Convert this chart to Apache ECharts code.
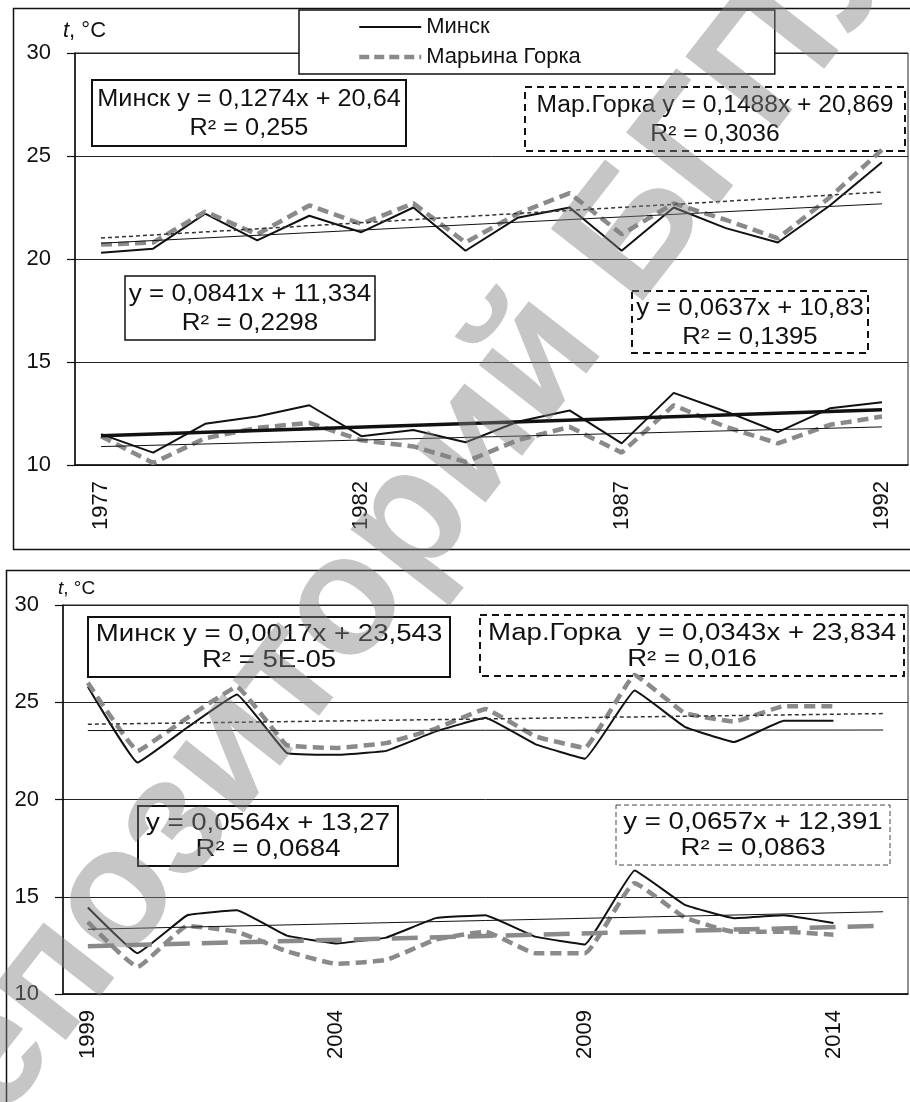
<!DOCTYPE html>
<html>
<head>
<meta charset="utf-8">
<script src="https://cdn.jsdelivr.net/npm/echarts@6/dist/echarts.min.js"></script>
<style>
  html, body { margin: 0; padding: 0; background: #fff; }
  #chart { width: 910px; height: 1102px; }
</style>
</head>
<body>
<div id="chart"></div>
<script>
// ---- Period 1: 1977–1992 ----
const years1 = ['1977','1978','1979','1980','1981','1982','1983','1984','1985','1986','1987','1988','1989','1990','1991','1992'];
const minskUpper1  = [20.3, 20.5, 22.2, 20.9, 22.1, 21.3, 22.5, 20.4, 22.0, 22.5, 20.4, 22.5, 21.5, 20.8, 22.6, 24.7];
const marinaUpper1 = [20.7, 20.8, 22.3, 21.2, 22.6, 21.7, 22.7, 20.8, 22.2, 23.2, 21.2, 22.7, 21.9, 21.0, 23.0, 25.3];
const minskLower1  = [11.5, 10.6, 12.0, 12.35, 12.9, 11.4, 11.7, 11.1, 12.1, 12.65, 11.05, 13.5, 12.6, 11.6, 12.75, 13.05];
const marinaLower1 = [11.4, 10.1, 11.3, 11.8, 12.05, 11.2, 10.9, 10.15, 11.2, 11.85, 10.6, 12.9, 11.85, 11.05, 11.95, 12.35];

// ---- Period 2: 1999–2015 ----
const years2 = ['1999','2000','2001','2002','2003','2004','2005','2006','2007','2008','2009','2010','2011','2012','2013','2014','2015'];
const minskUpper2  = [25.8, 21.9, 23.7, 25.4, 22.4, 22.3, 22.5, 23.5, 24.2, 22.85, 22.1, 25.6, 23.75, 22.95, 24.05, 24.05, null];
const marinaUpper2 = [26.0, 22.5, 24.2, 25.8, 22.8, 22.65, 22.9, 23.65, 24.65, 23.25, 22.65, 26.4, 24.45, 24.0, 24.8, 24.8, null];
const minskLower2  = [14.45, 12.1, 14.05, 14.3, 13.0, 12.6, 12.9, 13.9, 14.05, 12.95, 12.55, 16.35, 14.6, 13.9, 14.05, 13.65, null];
const marinaLower2 = [13.7, 11.4, 13.5, 13.2, 12.2, 11.55, 11.75, 12.8, 13.2, 12.1, 12.1, 15.7, 13.95, 13.2, 13.2, 13.05, null];

// ---- Linear trends (slope, intercept, R²), x = 1, 2, ... ----
const trendSlope1     = [0.1274, 0.1488, 0.0841, 0.0637];
const trendIntercept1 = [20.64, 20.869, 11.334, 10.83];
const trendR2_1       = ['0,255', '0,3036', '0,2298', '0,1395'];
const trendSlope2     = [0.0017, 0.0343, 0.0564, 0.0657];
const trendIntercept2 = [23.543, 23.834, 13.27, 12.391];
const trendR2_2       = ['5E-05', '0,016', '0,0684', '0,0863'];
const trendPrefix1    = ['Минск ', 'Мар.Горка ', '', ''];
const trendPrefix2    = ['Минск ', 'Мар.Горка  ', '', ''];

const yTicks = { min: 10, max: 30, step: 5 };
const seriesNames = ['Минск', 'Марьина Горка'];

const FONT = '"Liberation Sans", Arial, sans-serif';
const INK = '#111';
const GREY = '#8a8a8a';

const fmt = v => String(v).replace('.', ',');
const eqText = (prefix, a, b, r2) => prefix + 'y = ' + fmt(a) + 'x + ' + fmt(b) + '\nR² = ' + r2;

function trendData(years, a, b) {
  const n = years.length;
  return [[years[0], a * 1 + b], [years[n - 1], a * n + b]];
}

const styles = {
  minsk:  { color: INK, width: 2, type: 'solid' },
  marina: { color: GREY, width: 4.5, type: [11, 6] },
  thin:   { color: INK, width: 1, type: 'solid' },
  dotted: { color: '#333', width: 1.5, type: [4, 3] },
  thick:  { color: INK, width: 3.5, type: 'solid' },
  longDash: { color: GREY, width: 4.5, type: [26, 12] }
};

function line(name, idx, data, st, z, smooth) {
  return {
    name, type: 'line', xAxisIndex: idx, yAxisIndex: idx, data,
    symbol: 'none', smooth: smooth || false, z: z || 2,
    itemStyle: { color: st.color },
    lineStyle: { color: st.color, width: st.width, type: st.type },
    emphasis: { disabled: true }, silent: true
  };
}

function xAxisCfg(idx, years) {
  return {
    type: 'category', gridIndex: idx, data: years, boundaryGap: true,
    axisLine: { lineStyle: { color: INK, width: 1.5 } },
    axisTick: { interval: 0, length: 8, lineStyle: { color: INK, width: 1.2 } },
    axisLabel: { interval: 4, rotate: 90, fontSize: 22, color: INK, margin: 16, fontFamily: FONT },
    splitLine: { show: false }
  };
}

function yAxisCfg(idx) {
  return {
    type: 'value', gridIndex: idx, min: yTicks.min, max: yTicks.max, interval: yTicks.step,
    axisLine: { show: true, lineStyle: { color: INK, width: 1.5 } },
    axisTick: { show: true, length: 8, lineStyle: { color: INK, width: 1.2 } },
    axisLabel: { fontSize: 22, color: INK, margin: 24, fontFamily: FONT },
    splitLine: { show: true, lineStyle: { color: '#222', width: 1 } }
  };
}

// framed box with a trend equation; text is stretched a little horizontally
function eqBox(x, y, w, h, text, border, stretch, lh) {
  return {
    type: 'group', z: 20,
    children: [
      { type: 'rect', shape: { x, y, width: w, height: h },
        style: { fill: 'none', stroke: border.color, lineWidth: border.width, lineDash: border.dash || null } },
      { type: 'text', x: x + w / 2, y: y + h / 2 + 1, scaleX: stretch,
        style: { text, fontSize: 23, lineHeight: lh, fontFamily: FONT, fill: INK,
                 align: 'center', verticalAlign: 'middle' } }
    ]
  };
}

const solidBorder = { color: INK, width: 1.5 };
const solidBorder2 = { color: INK, width: 2 };
const dashBorder = { color: INK, width: 2, dash: [7, 5] };
const fineDashBorder = { color: '#444', width: 1, dash: [5, 3] };

const series = [
  // 1977–1992
  line(seriesNames[0], 0, minskUpper1, styles.minsk, 3),
  line(seriesNames[0], 0, minskLower1, styles.minsk, 3),
  line(seriesNames[1], 0, marinaUpper1, styles.marina, 4),
  line(seriesNames[1], 0, marinaLower1, styles.marina, 4),
  line('Минск, тренд', 0, trendData(years1, trendSlope1[0], trendIntercept1[0]), styles.thin, 5),
  line('Марьина Горка, тренд', 0, trendData(years1, trendSlope1[1], trendIntercept1[1]), styles.dotted, 5),
  line('Минск, тренд ', 0, trendData(years1, trendSlope1[2], trendIntercept1[2]), styles.thick, 5),
  line('Марьина Горка, тренд ', 0, trendData(years1, trendSlope1[3], trendIntercept1[3]), styles.thin, 5),
  // 1999–2015
  line(seriesNames[0], 1, minskUpper2, styles.minsk, 3, 0.08),
  line(seriesNames[0], 1, minskLower2, styles.minsk, 3, 0.08),
  line(seriesNames[1], 1, marinaUpper2, styles.marina, 4, 0.08),
  line(seriesNames[1], 1, marinaLower2, styles.marina, 4, 0.12),
  line('Минск, тренд', 1, trendData(years2, trendSlope2[0], trendIntercept2[0]), styles.thin, 5),
  line('Марьина Горка, тренд', 1, trendData(years2, trendSlope2[1], trendIntercept2[1]), styles.dotted, 5),
  line('Минск, тренд ', 1, trendData(years2, trendSlope2[2], trendIntercept2[2]), styles.thin, 5),
  line('Марьина Горка, тренд ', 1, trendData(years2, trendSlope2[3], trendIntercept2[3]), styles.longDash, 5)
];

const graphics = [
  // panel frames
  { type: 'polyline', z: 1, shape: { points: [[910, 8.5], [13.5, 8.5], [13.5, 549.5], [910, 549.5]] },
    style: { fill: 'none', stroke: INK, lineWidth: 1.5 } },
  { type: 'polyline', z: 1, shape: { points: [[910, 570.5], [6.5, 570.5], [6.5, 1102]] },
    style: { fill: 'none', stroke: INK, lineWidth: 1.5 } },
  // axis titles
  { type: 'text', x: 63, y: 31, z: 20,
    style: { text: '{i|t}, °C', fontSize: 22, fontFamily: FONT, fill: INK, verticalAlign: 'middle',
             rich: { i: { fontStyle: 'italic', fontSize: 22, fontFamily: FONT, fill: INK } } } },
  { type: 'text', x: 58, y: 589, z: 20,
    style: { text: '{i|t}, °C', fontSize: 19, fontFamily: FONT, fill: INK, verticalAlign: 'middle',
             rich: { i: { fontStyle: 'italic', fontSize: 19, fontFamily: FONT, fill: INK } } } },
  // trend equations, 1977–1992
  eqBox(92, 80, 314, 66, eqText(trendPrefix1[0], trendSlope1[0], trendIntercept1[0], trendR2_1[0]), solidBorder2, 1.1, 29),
  eqBox(525, 87, 380, 64, eqText(trendPrefix1[1], trendSlope1[1], trendIntercept1[1], trendR2_1[1]), dashBorder, 1.07, 29),
  eqBox(125, 276, 250, 64, eqText(trendPrefix1[2], trendSlope1[2], trendIntercept1[2], trendR2_1[2]), solidBorder, 1.13, 29),
  eqBox(632, 291, 236, 62, eqText(trendPrefix1[3], trendSlope1[3], trendIntercept1[3], trendR2_1[3]), dashBorder, 1.12, 29),
  // trend equations, 1999–2015
  eqBox(88, 617, 362, 60, eqText(trendPrefix2[0], trendSlope2[0], trendIntercept2[0], trendR2_2[0]), solidBorder2, 1.2, 26),
  eqBox(480, 615, 424, 61, eqText(trendPrefix2[1], trendSlope2[1], trendIntercept2[1], trendR2_2[1]), dashBorder, 1.2, 26),
  eqBox(138, 806, 260, 60, eqText(trendPrefix2[2], trendSlope2[2], trendIntercept2[2], trendR2_2[2]), solidBorder2, 1.2, 26),
  eqBox(616, 805, 274, 60, eqText(trendPrefix2[3], trendSlope2[3], trendIntercept2[3], trendR2_2[3]), fineDashBorder, 1.2, 26),
  // repository watermark
  { type: 'text', x: 385, y: 555, z: 100, rotation: 52 * Math.PI / 180,
    style: { text: 'Репозиторий БГПУ', fontSize: 170, fontWeight: 'bold', fontFamily: FONT,
             fill: 'rgba(128,128,128,0.45)', align: 'center', verticalAlign: 'middle' } }
];

const chart = echarts.init(document.getElementById('chart'), null, { renderer: 'canvas' });
chart.setOption({
  animation: false,
  backgroundColor: '#fff',
  textStyle: { fontFamily: FONT },
  grid: [
    { left: 75, top: 53, width: 833, height: 412, show: true, borderColor: '#222', borderWidth: 1, backgroundColor: 'transparent' },
    { left: 63, top: 605, width: 845, height: 389, show: true, borderColor: '#222', borderWidth: 1, backgroundColor: 'transparent' }
  ],
  xAxis: [xAxisCfg(0, years1), xAxisCfg(1, years2)],
  yAxis: [yAxisCfg(0), yAxisCfg(1)],
  legend: {
    data: [
      { name: seriesNames[0], lineStyle: { color: INK, width: 2, type: 'solid' } },
      { name: seriesNames[1], lineStyle: { color: GREY, width: 4.5, type: [10, 5] } }
    ],
    orient: 'vertical', left: 299, top: 10,
    padding: [6, 194, 6, 58], itemWidth: 62, itemHeight: 14, itemGap: 8,
    backgroundColor: '#fff', borderColor: INK, borderWidth: 1.5,
    textStyle: { fontSize: 22, color: INK, fontFamily: FONT },
    itemStyle: { opacity: 0 }, selectedMode: false
  },
  series,
  graphic: graphics
});
</script>
</body>
</html>
